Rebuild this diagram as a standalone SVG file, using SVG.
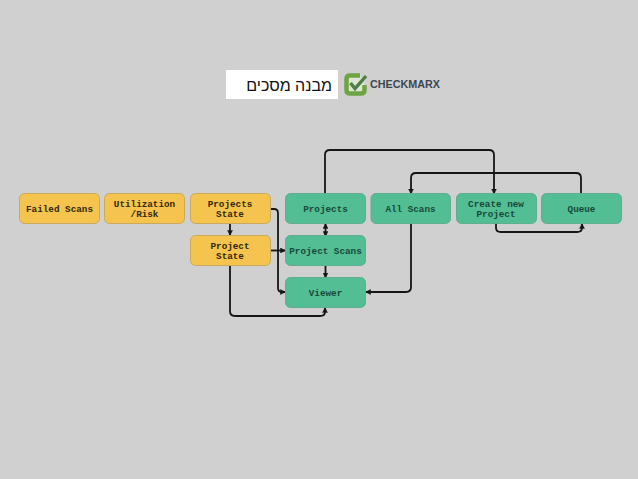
<svg xmlns="http://www.w3.org/2000/svg" width="638" height="479" viewBox="0 0 638 479">
<style>
.y{fill:#f4c44e;stroke:#c9aa5c;stroke-width:1}
.g{fill:#53bd93;stroke:#5fae90;stroke-width:1}
.t{font-family:"Liberation Mono",monospace;font-size:9.3px;font-weight:700;text-anchor:middle}
.ty{fill:#33260a}
.tg{fill:#17493a}
.c{fill:none;stroke:#151515;stroke-width:1.8;stroke-linejoin:round}
</style>
<defs>
<marker id="a" viewBox="0 0 6 6" refX="5.5" refY="3" markerWidth="2.800" markerHeight="2.800" orient="auto-start-reverse"><path d="M0 0L6 3L0 6Z" fill="#151515" stroke="#151515" stroke-width=".5"/></marker>
</defs>
<rect width="638" height="479" fill="#d0d0d0"/>
<g id="title">
<rect x="226" y="70" width="112" height="29" fill="#fff"/>
<text x="332" y="91" direction="rtl" font-family="Liberation Sans,sans-serif" font-size="16" fill="#111">מבנה מסכים</text>
</g>
<g id="logo">
<path d="M360 75.500H350Q346.500 75.500 346.500 79V90Q346.500 93.500 350 93.500H361Q364.500 93.500 364.500 90V85" fill="#dfe6d6" stroke="#6da544" stroke-width="4.500"/>
<path d="M350.500 83L355 88.500L366 76" fill="none" stroke="#4f7f45" stroke-width="3.400"/>
<text x="370" y="88" font-family="Liberation Sans,sans-serif" font-size="10.500" font-weight="700" fill="#3b4750" textLength="70" lengthAdjust="spacingAndGlyphs">CHECKMARX</text>
</g>
<g id="connectors">
<path class="c" marker-end="url(#a)" d="M325 194V155Q325 150 330 150H489Q494 150 494 155V193.500"/>
<path class="c" marker-end="url(#a)" d="M581 194V178Q581 173 576 173H416Q411 173 411 178V193.500"/>
<path class="c" marker-end="url(#a)" d="M411 223.500V287Q411 292 406 292H366"/>
<path class="c" marker-end="url(#a)" d="M496 224V228Q496 232 501 232H577Q582 232 582 228V224"/>
<path class="c" marker-end="url(#a)" d="M270 209H274Q278 209 278 213V288Q278 292 282 292H285"/>
<path class="c" marker-end="url(#a)" d="M270 250.500H285"/>
<path class="c" marker-end="url(#a)" d="M230 266V311Q230 316 235 316H320Q325 316 325 312V308"/>
<path class="c" marker-end="url(#a)" d="M230 224V235"/>
<path class="c" marker-start="url(#a)" marker-end="url(#a)" d="M325.500 224V236"/>
<path class="c" marker-end="url(#a)" d="M325.500 266V277.500"/>
</g>
<g id="failed-scans"><rect class="y" x="19.500" y="193.500" width="80" height="30" rx="5"/><text class="t ty" x="59.500" y="212">Failed Scans</text></g>
<g id="utilization-risk"><rect class="y" x="104.500" y="193.500" width="80" height="30" rx="5"/><text class="t ty" x="144.500" y="207">Utilization</text><text class="t ty" x="144.500" y="216.500">/Risk</text></g>
<g id="projects-state"><rect class="y" x="190.500" y="193.500" width="80" height="30" rx="5"/><text class="t ty" x="230" y="207">Projects</text><text class="t ty" x="230" y="216.500">State</text></g>
<g id="project-state"><rect class="y" x="190.500" y="235.500" width="80" height="30" rx="5"/><text class="t ty" x="230" y="249">Project</text><text class="t ty" x="230" y="258.500">State</text></g>
<g id="projects"><rect class="g" x="285.500" y="193.500" width="80" height="30" rx="5"/><text class="t tg" x="325.500" y="212">Projects</text></g>
<g id="project-scans"><rect class="g" x="285.500" y="235.500" width="80" height="30" rx="5"/><text class="t tg" x="325.500" y="254">Project Scans</text></g>
<g id="viewer"><rect class="g" x="285.500" y="277.500" width="80" height="30" rx="5"/><text class="t tg" x="325.500" y="296">Viewer</text></g>
<g id="all-scans"><rect class="g" x="371" y="193.500" width="79.500" height="30" rx="5"/><text class="t tg" x="410.500" y="212">All Scans</text></g>
<g id="create-new-project"><rect class="g" x="456.500" y="193.500" width="80" height="30" rx="5"/><text class="t tg" x="496" y="207">Create new</text><text class="t tg" x="496" y="216.500">Project</text></g>
<g id="queue"><rect class="g" x="541.500" y="193.500" width="80" height="30" rx="5"/><text class="t tg" x="581.500" y="212">Queue</text></g>
</svg>
